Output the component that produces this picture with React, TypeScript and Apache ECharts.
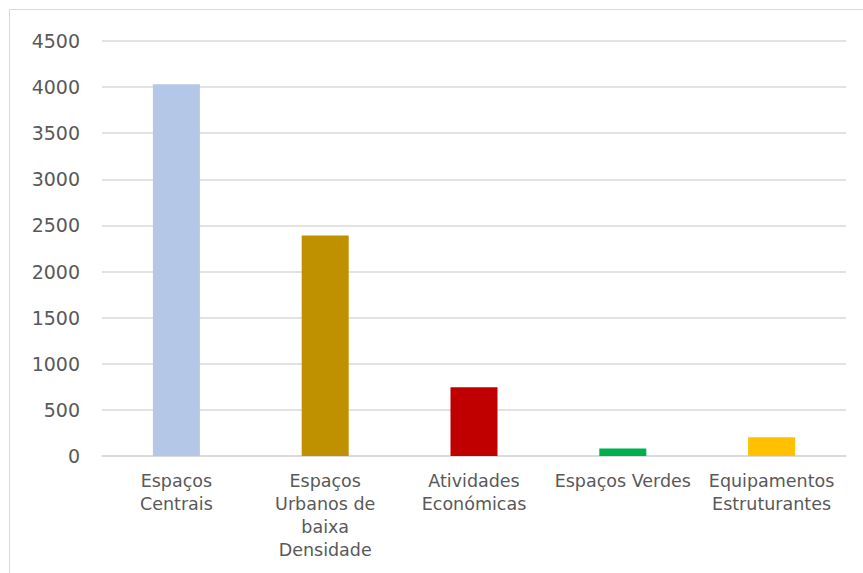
import React, { useEffect, useRef } from "react";
import * as echarts from "echarts";

const categories = [
  "Espaços\nCentrais",
  "Espaços\nUrbanos de\nbaixa\nDensidade",
  "Atividades\nEconómicas",
  "Espaços Verdes",
  "Equipamentos\nEstruturantes",
];
const values = [4030, 2392, 745, 82, 202];
const barColors = ["#B4C7E7", "#BF9000", "#C00000", "#00B050", "#FFC000"];
const yTicks = { min: 0, max: 4500, interval: 500 };

export default function App() {
  const ref = useRef<HTMLDivElement>(null);
  useEffect(() => {
    if (!ref.current) return;
    const chart = echarts.init(ref.current, null, { renderer: "svg" });
    const font = "'DejaVu Sans', sans-serif";
    chart.setOption({
      animation: false,
      backgroundColor: "#ffffff",
      graphic: [
        {
          type: "rect",
          shape: { x: 9.5, y: 9.5, width: 900, height: 700 },
          style: { fill: "none", stroke: "#d9d9d9", lineWidth: 1 },
          silent: true,
        },
      ],
      grid: { left: 102, right: 17, top: 41, bottom: 117 },
      xAxis: {
        type: "category",
        data: categories,
        axisLine: { lineStyle: { color: "#d9d9d9", width: 1.5 } },
        axisTick: { show: false },
        axisLabel: {
          interval: 0,
          color: "#595959",
          fontFamily: font,
          fontSize: 17.5,
          lineHeight: 23,
          margin: 13,
        },
      },
      yAxis: {
        type: "value",
        min: yTicks.min,
        max: yTicks.max,
        interval: yTicks.interval,
        axisLine: { show: false },
        axisTick: { show: false },
        splitLine: { lineStyle: { color: "#d9d9d9", width: 1.5 } },
        axisLabel: {
          color: "#595959",
          fontFamily: font,
          fontSize: 19,
          margin: 22,
          formatter: (v: number) => String(v),
        },
      },
      series: [
        {
          type: "bar",
          barWidth: "31.6%",
          data: values.map((v, i) => ({ value: v, itemStyle: { color: barColors[i] } })),
        },
      ],
    });
    return () => chart.dispose();
  }, []);
  return (
    <div
      ref={ref}
      style={{ position: "fixed", left: 0, top: 0, width: 863, height: 573 }}
    />
  );
}
